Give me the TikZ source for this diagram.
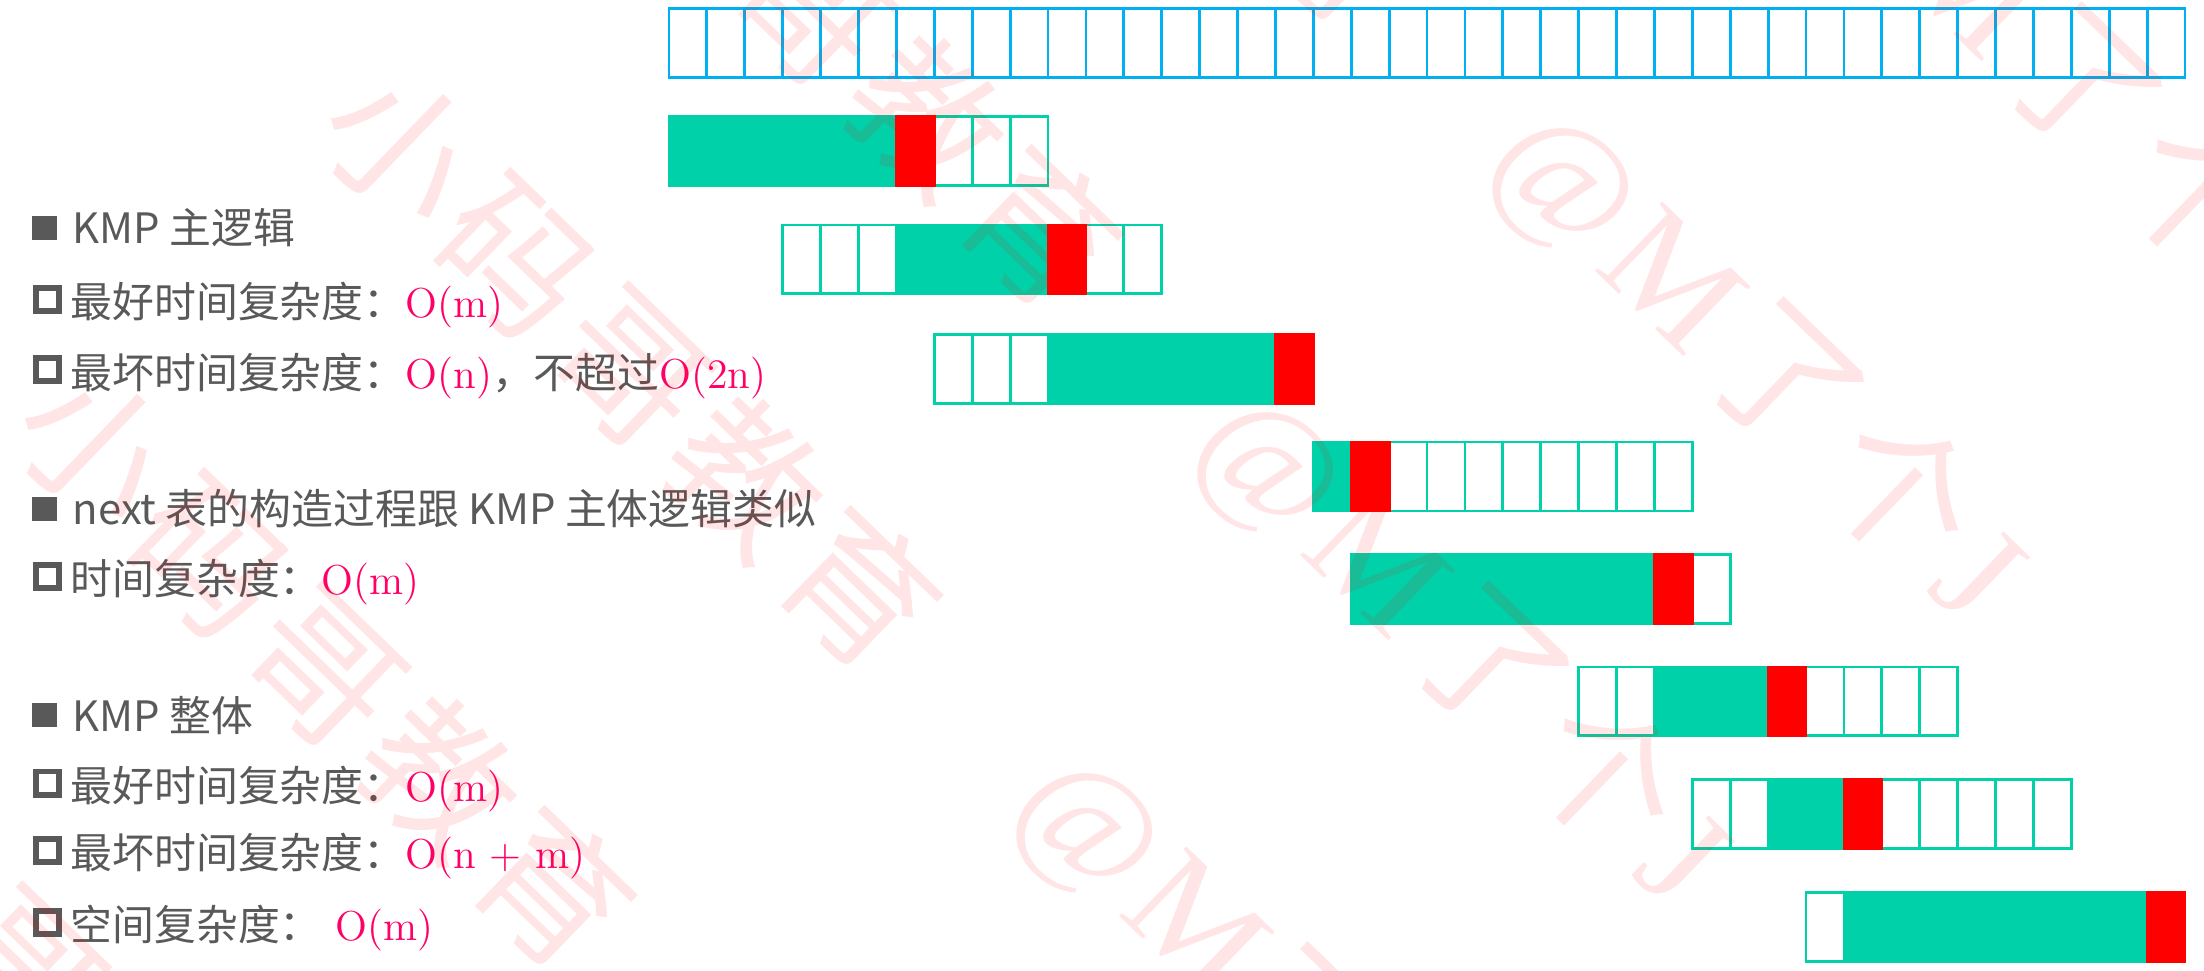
\documentclass[tikz,border=0pt]{standalone}
\usepackage{fontspec}
\usepackage{xcolor}
\newfontfamily\cjk{Noto Sans CJK SC}
\newfontfamily\wmlatin{Liberation Serif}
\definecolor{kmpblue}{RGB}{0,176,240}
\definecolor{kmpgreen}{RGB}{0,209,169}
\definecolor{kmpred}{RGB}{255,0,0}
\definecolor{txtgrey}{RGB}{89,89,89}
\definecolor{cplxred}{RGB}{255,0,102}
\newcommand{\cx}[1]{{\color{cplxred}\rmfamily #1}}
\newcommand{\wmgap}{\hspace{0.08em}}
\tikzset{
  cell/.style={draw=kmpgreen, line width=0.8pt, minimum width=0.379cm, minimum height=0.688cm, inner sep=0pt, outer sep=0pt},
  maincell/.style={cell, draw=kmpblue},
  txt/.style={anchor=base west, inner sep=0pt, text=txtgrey, font=\cjk\fontsize{11.9}{14}\selectfont},
  fullbullet/.style={fill=txtgrey, minimum size=0.24cm, inner sep=0pt},
  openbullet/.style={draw=txtgrey, line width=1.7pt, minimum size=0.23cm, inner sep=0pt},
  wm/.style={anchor=west, rotate=-44, inner sep=0pt, text=red, text opacity=0.1, font=\cjk\fontsize{42}{46}\selectfont}
}

\begin{document}
\begin{tikzpicture}[x=0.01cm, y=-0.01cm]
\useasboundingbox (0,0) rectangle (2204,970);

\foreach \i in {0,...,39}
  \node[maincell] (m\i) at ({669+(\i+0.5)*37.9}, 42.85) {};

\foreach \r/\off/\y/\gs/\ge/\red in {1/0/151.1/0/5/6, 2/3/259.35/3/6/7, 3/7/368.95/3/8/9, 4/17/476.5/0/0/1,
    5/18/588.95/0/7/8, 6/24/701.4/2/4/5, 7/27/813.85/2/3/4, 8/30/927/1/8/9}{
  \foreach \i in {0,...,9}
    \node[cell] (p\r-\i) at ({669+(\off+\i+0.5)*37.9}, \y) {};
  \filldraw[kmpgreen, line width=0.8pt] (p\r-\gs.north west) rectangle (p\r-\ge.south east);
  \filldraw[kmpred, line width=0.8pt] (p\r-\red.north west) rectangle (p\r-\red.south east);
}

\node[fullbullet] (b1) at (44.5,227.7) {};
\node[txt] (t1) at (72,243.3) {KMP 主逻辑};
\node[openbullet] (b2) at (47.5,299.5) {};
\node[txt] (t2) at (70,317.8) {最好时间复杂度：\cx{O(m)}};
\node[openbullet] (b3) at (47.5,369.8) {};
\node[txt] (t3) at (70,388.1) {最坏时间复杂度：\cx{O(n)}，不超过\cx{O(2n)}};

\node[fullbullet] (b4) at (44.5,508.8) {};
\node[txt] (t4) at (72,524.4) {next 表的构造过程跟 KMP 主体逻辑类似};
\node[openbullet] (b5) at (47.5,576.4) {};
\node[txt] (t5) at (70,594.7) {时间复杂度：\cx{O(m)}};

\node[fullbullet] (b6) at (44.5,715.4) {};
\node[txt] (t6) at (72,731) {KMP 整体};
\node[openbullet] (b7) at (47.5,783) {};
\node[txt] (t7) at (70,801.3) {最好时间复杂度：\cx{O(m)}};
\node[openbullet] (b8) at (47.5,850.5) {};
\node[txt] (t8) at (70,868.8) {最坏时间复杂度：\cx{O(n + m)}};
\node[openbullet] (b9) at (47.5,922.2) {};
\node[txt] (t9) at (70,940.5) {空间复杂度：\cx{ O(m)}};

\begin{scope}
\clip (0,0) rectangle (2204,970);
\foreach \wx/\wy [count=\k] in {-210/750, 90/450, 396/150, 577/-211, 872/-495, 1170/-790}
  \node[wm] (wm\k) at (\wx-53,\wy-51) {小\wmgap 码\wmgap 哥\wmgap 教\wmgap 育\hspace{1.27em}{\wmlatin @\wmgap M}\wmgap 了\wmgap 个\wmgap{\wmlatin J}};
\end{scope}
\end{tikzpicture}
\end{document}
